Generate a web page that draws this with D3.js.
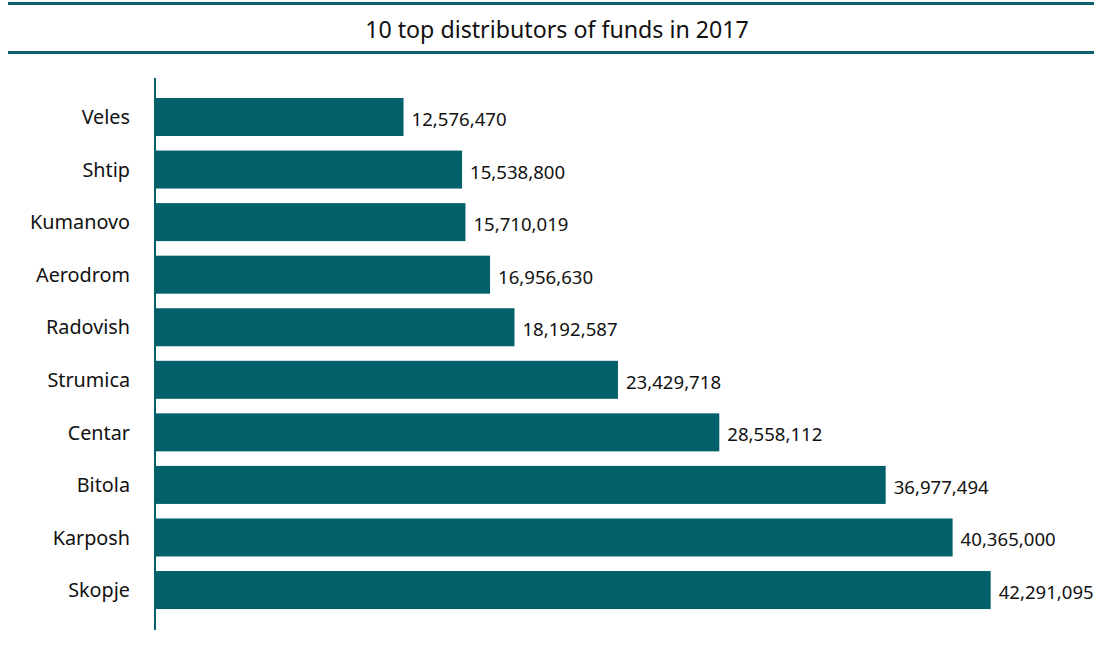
<!DOCTYPE html>
<html>
<head>
<meta charset="utf-8">
<script src="https://cdn.jsdelivr.net/npm/d3@7"></script>
<style>
  html, body { margin: 0; padding: 0; background: #ffffff; }
  svg { display: block; }
  text { font-family: "Noto Sans", "Roboto", sans-serif; fill: #111111; }
</style>
</head>
<body>
<svg id="chart" width="1094" height="647"></svg>
<script>
// Municipalities, top to bottom
const municipalities = ["Veles", "Shtip", "Kumanovo", "Aerodrom", "Radovish", "Strumica", "Centar", "Bitola", "Karposh", "Skopje"];
// Funds distributed in 2017
const funds = [12576470, 15538800, 15710019, 16956630, 18192587, 23429718, 28558112, 36977494, 40365000, 42291095];
const chartTitle = "10 top distributors of funds in 2017";

const teal = "#02606a";
const svg = d3.select("#chart");
const W = 1094, H = 647;

// Title rules
svg.append("rect").attr("x", 8).attr("y", 2).attr("width", W - 8).attr("height", 3).attr("fill", "#0c6070");
svg.append("rect").attr("x", 8).attr("y", 51).attr("width", W - 8).attr("height", 3).attr("fill", "#0c6070");
svg.append("text")
  .attr("x", 557).attr("y", 29)
  .attr("text-anchor", "middle")
  .attr("dominant-baseline", "central")
  .style("font-size", "23.2px")
  .text(chartTitle);

const x = d3.scaleLinear().domain([0, 45000000]).range([155, 155 + 45 * 19.76]);
const y = d3.scaleBand().domain(municipalities).range([90.72, 616.32])
  .paddingInner(0.277).paddingOuter(0.1385);

// Bars
svg.append("g").selectAll("rect")
  .data(municipalities)
  .join("rect")
  .attr("x", x(0))
  .attr("y", d => y(d))
  .attr("width", (d, i) => x(funds[i]) - x(0))
  .attr("height", y.bandwidth())
  .attr("fill", teal);

// Category axis
const yAxis = d3.axisLeft(y).tickSize(0).tickPadding(25);
const gAxis = svg.append("g").attr("transform", `translate(${x(0)},0)`).call(yAxis);
gAxis.select(".domain").remove();
gAxis.selectAll("text").style("font-size", "19.8px").attr("fill", "#111111")
  .attr("font-family", "'Noto Sans', Roboto, sans-serif")
  .attr("dy", "0.36em");
svg.append("line")
  .attr("x1", x(0)).attr("x2", x(0))
  .attr("y1", 78).attr("y2", 630)
  .attr("stroke", teal).attr("stroke-width", 2);

// Value labels
const fmt = d3.format(",");
svg.append("g").selectAll("text")
  .data(municipalities)
  .join("text")
  .attr("x", (d, i) => x(funds[i]) + 8)
  .attr("y", d => y(d) + y.bandwidth() / 2 + 1.5)
  .attr("dominant-baseline", "central")
  .style("font-size", "18.6px")
  .text((d, i) => fmt(funds[i]));
</script>
</body>
</html>
